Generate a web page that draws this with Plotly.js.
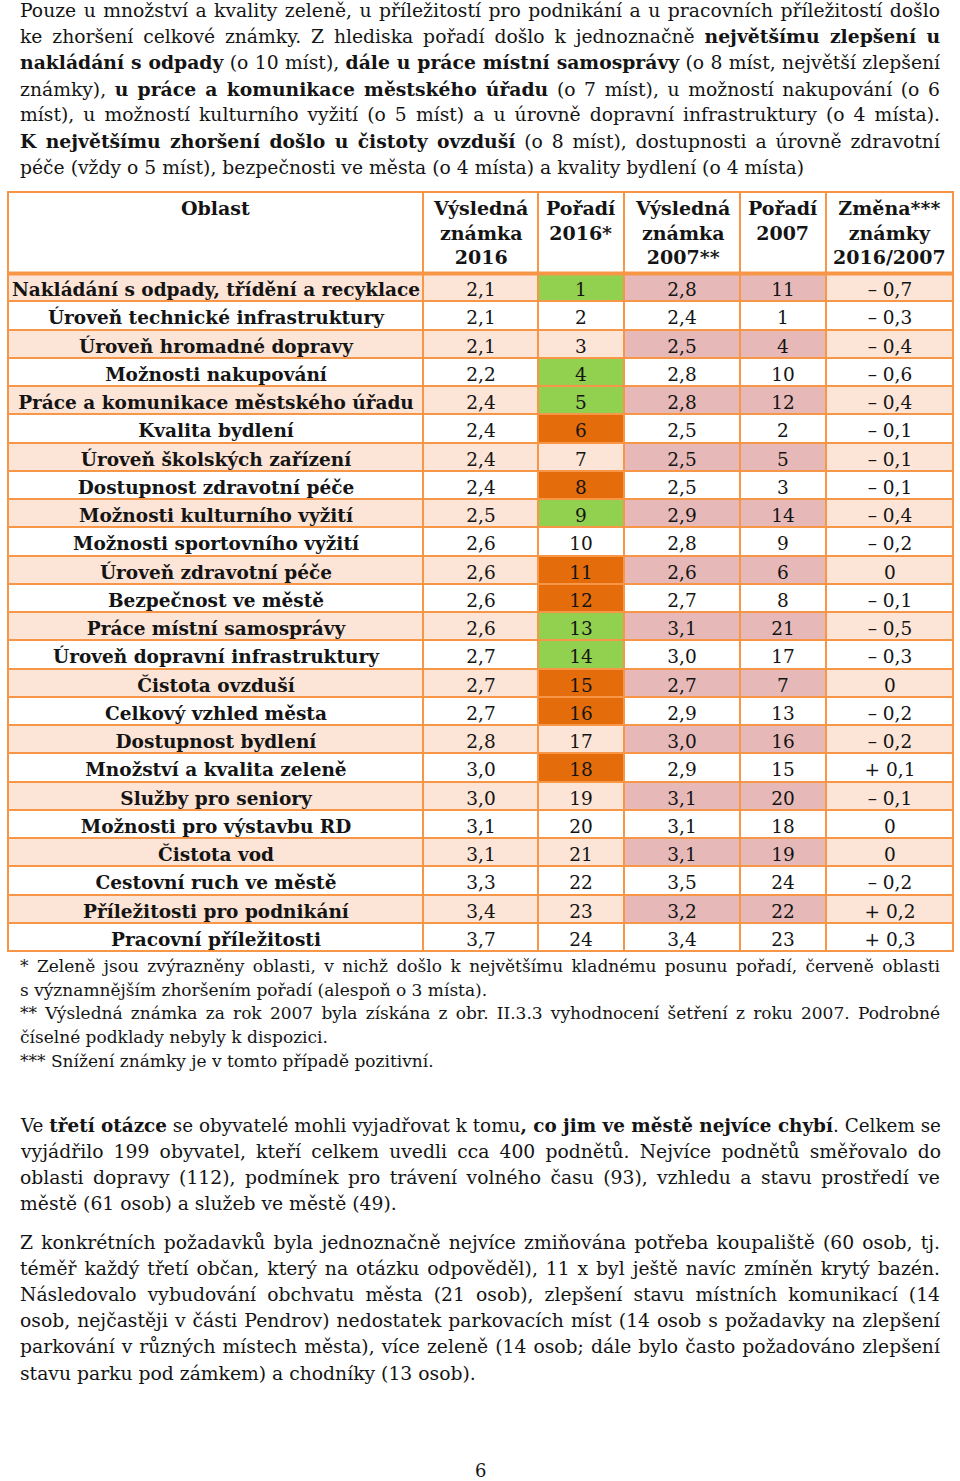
<!DOCTYPE html>
<html>
<head>
<meta charset="utf-8">
<script src="https://cdn.plot.ly/plotly-3.0.1.min.js"></script>
<style>html,body{margin:0;padding:0;background:#fff;}#chart{width:960px;height:1481px;}</style>
</head>
<body>
<div id="chart"></div>
<script>
// ---- Data ----
const headerLabels = ['Oblast', 'Výsledná<br>známka<br>2016', 'Pořadí<br>2016*', 'Výsledná<br>známka<br>2007**', 'Pořadí<br>2007', 'Změna***<br>známky<br>2016/2007'];
const oblast = ['Nakládání s odpady, třídění a recyklace','Úroveň technické infrastruktury','Úroveň hromadné dopravy','Možnosti nakupování','Práce a komunikace městského úřadu','Kvalita bydlení','Úroveň školských zařízení','Dostupnost zdravotní péče','Možnosti kulturního vyžití','Možnosti sportovního vyžití','Úroveň zdravotní péče','Bezpečnost ve městě','Práce místní samosprávy','Úroveň dopravní infrastruktury','Čistota ovzduší','Celkový vzhled města','Dostupnost bydlení','Množství a kvalita zeleně','Služby pro seniory','Možnosti pro výstavbu RD','Čistota vod','Cestovní ruch ve městě','Příležitosti pro podnikání','Pracovní příležitosti'];
const znamka2016 = ['2,1','2,1','2,1','2,2','2,4','2,4','2,4','2,4','2,5','2,6','2,6','2,6','2,6','2,7','2,7','2,7','2,8','3,0','3,0','3,1','3,1','3,3','3,4','3,7'];
const poradi2016 = [1,2,3,4,5,6,7,8,9,10,11,12,13,14,15,16,17,18,19,20,21,22,23,24];
const znamka2007 = ['2,8','2,4','2,5','2,8','2,8','2,5','2,5','2,5','2,9','2,8','2,6','2,7','3,1','3,0','2,7','2,9','3,0','2,9','3,1','3,1','3,1','3,5','3,2','3,4'];
const poradi2007 = [11,1,4,10,12,2,5,3,14,9,6,8,21,17,7,13,16,15,20,18,19,24,22,23];
const zmena = ['– 0,7','– 0,3','– 0,4','– 0,6','– 0,4','– 0,1','– 0,1','– 0,1','– 0,4','– 0,2','0','– 0,1','– 0,5','– 0,3','0','– 0,2','– 0,2','+ 0,1','– 0,1','0','0','– 0,2','+ 0,2','+ 0,3'];
const zlepseniPoradi = [1,4,5,9,13,14];        // green highlight (rank 2016)
const zhorseniPoradi = [6,8,11,12,15,16,18];   // orange highlight (rank 2016)

const paragraph1 = [
  {t:'Pouze u množství a kvality zeleně, u příležitostí pro podnikání a u pracovních příležitostí došlo', j:true},
  {t:'ke zhoršení celkové známky. Z hlediska pořadí došlo k jednoznačně <b>největšímu zlepšení u</b>', j:true},
  {t:'<b>nakládání s odpady</b> (o 10 míst), <b>dále u práce místní samosprávy</b> (o 8 míst, největší zlepšení', j:true},
  {t:'známky), <b>u práce a komunikace městského úřadu</b> (o 7 míst), u možností nakupování (o 6', j:true},
  {t:'míst), u možností kulturního vyžití (o 5 míst) a u úrovně dopravní infrastruktury (o 4 místa).', j:true},
  {t:'<b>K největšímu zhoršení došlo u čistoty ovzduší</b> (o 8 míst), dostupnosti a úrovně zdravotní', j:true},
  {t:'péče (vždy o 5 míst), bezpečnosti ve města (o 4 místa) a kvality bydlení (o 4 místa)', j:false}
];
const footnotes = [
  {t:'* Zeleně jsou zvýrazněny oblasti, v nichž došlo k největšímu kladnému posunu pořadí, červeně oblasti', j:true},
  {t:'s významnějším zhoršením pořadí (alespoň o 3 místa).', j:false},
  {t:'** Výsledná známka za rok 2007 byla získána z obr. II.3.3 vyhodnocení šetření z roku 2007. Podrobné', j:true},
  {t:'číselné podklady nebyly k dispozici.', j:false},
  {t:'*** Snížení známky je v tomto případě pozitivní.', j:false}
];
const paragraph2 = [
  {t:'Ve <b>třetí otázce</b> se obyvatelé mohli vyjadřovat k tomu<b>, co jim ve městě nejvíce chybí</b>. Celkem se', j:true},
  {t:'vyjádřilo 199 obyvatel, kteří celkem uvedli cca 400 podnětů. Nejvíce podnětů směřovalo do', j:true},
  {t:'oblasti dopravy (112), podmínek pro trávení volného času (93), vzhledu a stavu prostředí ve', j:true},
  {t:'městě (61 osob) a služeb ve městě (49).', j:false}
];
const paragraph3 = [
  {t:'Z konkrétních požadavků byla jednoznačně nejvíce zmiňována potřeba koupaliště (60 osob, tj.', j:true},
  {t:'téměř každý třetí občan, který na otázku odpověděl), 11 x byl ještě navíc zmíněn krytý bazén.', j:true},
  {t:'Následovalo vybudování obchvatu města (21 osob), zlepšení stavu místních komunikací (14', j:true},
  {t:'osob, nejčastěji v části Pendrov) nedostatek parkovacích míst (14 osob s požadavky na zlepšení', j:true},
  {t:'parkování v různých místech města), více zeleně (14 osob; dále bylo často požadováno zlepšení', j:true},
  {t:'stavu parku pod zámkem) a chodníky (13 osob).', j:false}
];
const pageNumber = '6';

// ---- Layout constants (pixels) ----
const W = 960, H = 1481;
const FONT = 'DejaVu Serif';
const TXT = '#141414';
const ORANGE_LINE = '#f79646';
const colEdges = [8, 423, 538, 624, 740, 826, 953];
const tableTop = 192, headerH = 81, rowH = 28.25;
const nRows = oblast.length;
const rowEdges = [tableTop, tableTop + headerH];
for (let i = 1; i <= nRows; i++) rowEdges.push(tableTop + headerH + i * rowH);
const tableBottom = rowEdges[rowEdges.length - 1];

// colour codes: 0 white, 1 peach, 2 pink, 3 green, 4 dark orange
const colorscale = [[0,'#ffffff'],[0.2,'#ffffff'],[0.2,'#fce4d6'],[0.4,'#fce4d6'],[0.4,'#e6b9b8'],[0.6,'#e6b9b8'],[0.6,'#92d050'],[0.8,'#92d050'],[0.8,'#e46c0a'],[1,'#e46c0a']];

const z = [[0,0,0,0,0,0]];
const txt = [['','','','','','']];
for (let i = 0; i < nRows; i++) {
  const odd = i % 2 === 0;
  const b = odd ? 1 : 0, p = odd ? 2 : 0;
  const r = poradi2016[i];
  const rc = zlepseniPoradi.includes(r) ? 3 : (zhorseniPoradi.includes(r) ? 4 : b);
  z.push([b, b, rc, p, p, b]);
  txt.push(['<b>' + oblast[i] + '</b>', znamka2016[i], String(poradi2016[i]), znamka2007[i], String(poradi2007[i]), zmena[i]]);
}

const heat = {
  type: 'heatmap',
  x: colEdges, y: rowEdges, z: z,
  zmin: -0.5, zmax: 4.5, colorscale: colorscale, showscale: false,
  xgap: 2, ygap: 2,
  text: txt, texttemplate: '%{text}',
  textfont: {family: FONT, size: 18.5, color: TXT},
  hoverinfo: 'skip'
};

const annotations = [];
const LEFT = 20, RIGHT = 940;
function addLines(lines, startY, step, size) {
  lines.forEach((l, i) => {
    annotations.push({
      xref: 'x', yref: 'y', x: LEFT - 2, y: startY + i * step,
      xanchor: 'left', yanchor: 'middle', showarrow: false, align: 'left',
      text: l.t, font: {family: FONT, size: size, color: TXT},
      name: l.j ? 'justify' : 'plain'
    });
  });
}
addLines(paragraph1, 10, 26.2, 18.75);
// table header
headerLabels.forEach((h, k) => {
  annotations.push({xref: 'x', yref: 'y', x: (colEdges[k] + colEdges[k + 1]) / 2, y: tableTop + 3,
    xanchor: 'center', yanchor: 'top', showarrow: false, align: 'center',
    text: '<b>' + h + '</b>', font: {family: FONT, size: 19, color: TXT}, name: 'header'});
});
addLines(footnotes, 966, 23.7, 17);
addLines(paragraph2, 1125, 26.2, 18.75);
addLines(paragraph3, 1242, 26.2, 18.75);
annotations.push({xref: 'x', yref: 'y', x: 480, y: 1470, xanchor: 'center', yanchor: 'middle', showarrow: false,
  text: pageNumber, font: {family: FONT, size: 18, color: TXT}, name: 'page'});

const layout = {
  width: W, height: H, margin: {l: 0, r: 0, t: 0, b: 0, pad: 0},
  paper_bgcolor: '#ffffff', plot_bgcolor: '#ffffff',
  showlegend: false,
  xaxis: {range: [0, W], visible: false, fixedrange: true},
  yaxis: {range: [H, 0], visible: false, fixedrange: true},
  annotations: annotations,
  shapes: [
    {type: 'rect', xref: 'x', yref: 'y', layer: 'below', x0: colEdges[0] - 1, x1: colEdges[6] + 1,
      y0: tableTop - 1, y1: tableBottom + 1, fillcolor: ORANGE_LINE, line: {width: 0}},
    {type: 'line', xref: 'x', yref: 'y', layer: 'above', x0: colEdges[0], x1: colEdges[6],
      y0: tableTop + headerH + 0.5, y1: tableTop + headerH + 0.5, line: {color: ORANGE_LINE, width: 4}}
  ]
};

Plotly.newPlot('chart', [heat], layout, {staticPlot: true}).then(gd => {
  // nudge cell labels down slightly to sit like the source table text
  gd.querySelectorAll('g.heatmap-label').forEach(g => {
    const t = g.getAttribute('transform') || '';
    g.setAttribute('transform', t + ' translate(0,3)');
  });
  // justify full lines like the source document
  const textEls = gd.querySelectorAll('.annotation-text');
  textEls.forEach((el, idx) => {
    const ann = annotations[idx];
    if (!ann || ann.name !== 'justify') return;
    const w = el.getComputedTextLength();
    const target = RIGHT - LEFT;
    const spaces = (el.textContent.match(/ /g) || []).length;
    if (w < target && spaces > 0) {
      el.setAttribute('word-spacing', ((target - w) / spaces).toFixed(2));
    } else if (w > target) {
      el.setAttribute('textLength', target);
      el.setAttribute('lengthAdjust', 'spacingAndGlyphs');
    }
  });
});
</script>
</body>
</html>
